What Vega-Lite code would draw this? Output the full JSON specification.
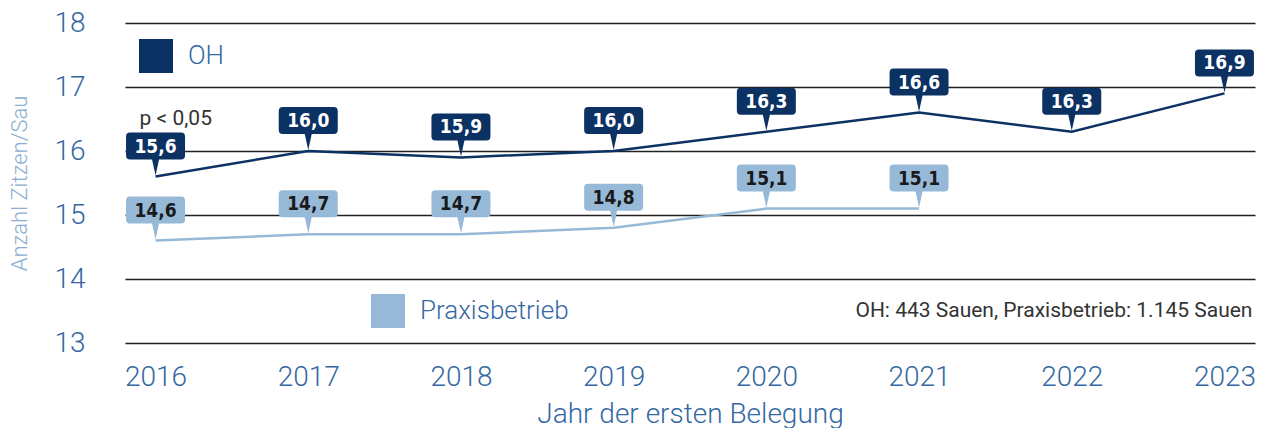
{
  "$schema": "https://vega.github.io/schema/vega-lite/v6.json",
  "width": 1130,
  "height": 320,
  "autosize": {"type": "none"},
  "padding": {"left": 125, "top": 23, "right": 11, "bottom": 85},
  "background": "white",
  "config": {
    "view": {"stroke": null},
    "font": "Roboto",
    "locale": {"number": {"decimal": ",", "thousands": ".", "grouping": [3], "currency": ["", " €"]}}
  },
  "data": {
    "values": [
      {"year": 2016, "group": "OH", "value": 15.6, "note": "p < 0,05"},
      {"year": 2017, "group": "OH", "value": 16.0},
      {"year": 2018, "group": "OH", "value": 15.9},
      {"year": 2019, "group": "OH", "value": 16.0},
      {"year": 2020, "group": "OH", "value": 16.3},
      {"year": 2021, "group": "OH", "value": 16.6},
      {"year": 2022, "group": "OH", "value": 16.3},
      {"year": 2023, "group": "OH", "value": 16.9, "info": "OH: 443 Sauen, Praxisbetrieb: 1.145 Sauen"},
      {"year": 2016, "group": "Praxisbetrieb", "value": 14.6},
      {"year": 2017, "group": "Praxisbetrieb", "value": 14.7},
      {"year": 2018, "group": "Praxisbetrieb", "value": 14.7},
      {"year": 2019, "group": "Praxisbetrieb", "value": 14.8},
      {"year": 2020, "group": "Praxisbetrieb", "value": 15.1},
      {"year": 2021, "group": "Praxisbetrieb", "value": 15.1}
    ]
  },
  "encoding": {
    "x": {
      "field": "year", "type": "ordinal",
      "scale": {"type": "point", "padding": 0.2},
      "title": "Jahr der ersten Belegung",
      "axis": {
        "domain": false, "ticks": false, "grid": false, "labelAngle": 0,
        "labelFontSize": 28, "labelFontWeight": 300, "labelColor": "#3468a3", "labelPadding": 20,
        "titleFontSize": 28, "titleFontWeight": 300, "titleColor": "#3468a3", "titlePadding": 9
      }
    },
    "y": {
      "field": "value", "type": "quantitative",
      "scale": {"domain": [13, 18], "nice": false, "zero": false},
      "title": "Anzahl Zitzen/Sau",
      "axis": {
        "values": [13, 14, 15, 16, 17, 18],
        "grid": true, "gridColor": "#222222", "gridWidth": 1.5,
        "domain": false, "ticks": false,
        "labelFontSize": 28, "labelFontWeight": 300, "labelColor": "#3468a3", "labelPadding": 40,
        "titleFontSize": 22, "titleFontWeight": 300, "titleColor": "#8aaed2", "titlePadding": 22
      }
    }
  },
  "layer": [
    {
      "mark": {"type": "line", "strokeWidth": 2.5},
      "encoding": {
        "color": {
          "field": "group", "type": "nominal",
          "scale": {"domain": ["OH", "Praxisbetrieb"], "range": ["#0c3163", "#97b9d8"]},
          "legend": null
        }
      }
    },
    {
      "transform": [{"filter": "datum.group === 'OH'"}],
      "mark": {
        "type": "point", "filled": true, "opacity": 1, "strokeWidth": 0, "size": 4,
        "shape": "M -25.5 -44 H 25.5 Q 29.5 -44 29.5 -40 V -21 Q 29.5 -17 25.5 -17 H 3.5 L 0 -1 L -3.5 -17 H -25.5 Q -29.5 -17 -29.5 -21 V -40 Q -29.5 -44 -25.5 -44 Z"
      },
      "encoding": {
        "color": {
          "field": "group", "type": "nominal",
          "scale": {"domain": ["OH"], "range": ["#0c3163"]},
          "legend": {
            "orient": "none", "legendX": 14, "legendY": 16, "title": null, "padding": 0,
            "symbolType": "square", "symbolSize": 1156, "symbolStrokeWidth": 0, "symbolOpacity": 1,
            "labelFontSize": 26, "labelFont": "Roboto", "labelFontWeight": 300, "labelColor": "#3468a3", "labelOffset": 15
          }
        }
      }
    },
    {
      "transform": [{"filter": "datum.group === 'Praxisbetrieb'"}],
      "mark": {
        "type": "point", "filled": true, "opacity": 1, "strokeWidth": 0, "size": 4,
        "shape": "M -25.5 -44 H 25.5 Q 29.5 -44 29.5 -40 V -21 Q 29.5 -17 25.5 -17 H 3.5 L 0 -1 L -3.5 -17 H -25.5 Q -29.5 -17 -29.5 -21 V -40 Q -29.5 -44 -25.5 -44 Z"
      },
      "encoding": {
        "color": {
          "field": "group", "type": "nominal",
          "scale": {"domain": ["Praxisbetrieb"], "range": ["#97b9d8"]},
          "legend": {
            "orient": "none", "legendX": 246, "legendY": 271, "title": null, "padding": 0,
            "symbolType": "square", "symbolSize": 1156, "symbolStrokeWidth": 0, "symbolOpacity": 1,
            "labelFontSize": 26, "labelFont": "Roboto", "labelFontWeight": 300, "labelColor": "#3468a3", "labelOffset": 15
          }
        }
      }
    },
    {
      "mark": {"type": "text", "font": "DejaVu Sans Condensed, Roboto", "fontWeight": "bold", "fontSize": 19, "baseline": "middle", "dy": -30},
      "encoding": {
        "text": {"field": "value", "type": "quantitative", "format": ".1f"},
        "color": {"condition": {"test": "datum.group === 'OH'", "value": "#ffffff"}, "value": "#1a1a1a"}
      }
    },
    {
      "transform": [{"filter": "datum.note"}],
      "mark": {"type": "text", "align": "left", "baseline": "middle", "dx": -16, "dy": -58, "fontSize": 21, "color": "#333333", "font": "Roboto"},
      "encoding": {"text": {"field": "note"}}
    },
    {
      "transform": [{"filter": "datum.info"}],
      "mark": {"type": "text", "align": "right", "baseline": "middle", "dx": 28, "fontSize": 21, "color": "#333333", "font": "Roboto"},
      "encoding": {
        "y": {"datum": 13.5},
        "text": {"field": "info"}
      }
    }
  ],
  "resolve": {"scale": {"color": "independent"}, "legend": {"color": "independent"}}
}
